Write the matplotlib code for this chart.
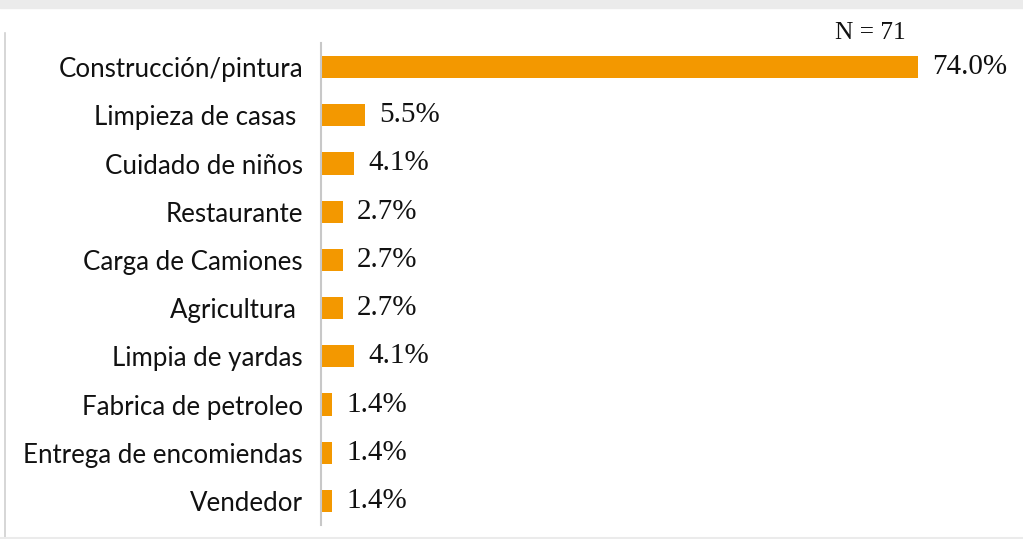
import matplotlib.pyplot as plt
from matplotlib.lines import Line2D
from matplotlib.patches import Rectangle

# datos
categorias = ['Construcción/pintura', 'Limpieza de casas ', 'Cuidado de niños',
              'Restaurante', 'Carga de Camiones', 'Agricultura ',
              'Limpia de yardas', 'Fabrica de petroleo',
              'Entrega de encomiendas', 'Vendedor']
porcentajes = [74.0, 5.5, 4.1, 2.7, 2.7, 2.7, 4.1, 1.4, 1.4, 1.4]
nota = 'N = 71'

color_barra = '#F39800'
fuente_num = 'Liberation Serif'
fuente_cat = 'Lato'

fig = plt.figure(figsize=(10.23, 5.39), dpi=100)
ax = fig.add_axes([321 / 1023, 14 / 539, 680 / 1023, 482 / 539])

y = list(range(len(categorias)))
ax.barh(y, porcentajes, height=0.46, color=color_barra)
ax.set_ylim(len(categorias) - 0.5, -0.5)
ax.set_xlim(0, 680 / 8.07)

ax.set_yticks(y)
ax.set_yticklabels(categorias, fontsize=18.6, family=fuente_cat, color='#111111')
ax.tick_params(axis='y', length=0, pad=13)
ax.set_xticks([])

for s in ['top', 'right', 'bottom']:
    ax.spines[s].set_visible(False)
ax.spines['left'].set_color('#c8c8c8')
ax.spines['left'].set_linewidth(1.5)

for yi, v in zip(y, porcentajes):
    ax.annotate(f'{v:.1f}%', (v, yi), xytext=(10, 0), textcoords='offset points',
                va='center', ha='left', fontsize=21, family=fuente_num, color='#111111')

fig.text(870 / 1023, 1 - 33 / 539, nota, ha='center', va='center',
         fontsize=18.3, family=fuente_num, color='#111111')

# marco del área del gráfico
fig.patches.append(Rectangle((0, 1 - 8 / 539), 1, 8 / 539, transform=fig.transFigure,
                             color='#ebebeb', zorder=0))
fig.lines.append(Line2D([4.5 / 1023, 4.5 / 1023], [0, 1 - 33 / 539], transform=fig.transFigure,
                        color='#d0d0d0', lw=1.2))
fig.lines.append(Line2D([0, 1], [1.5 / 539, 1.5 / 539], transform=fig.transFigure,
                        color='#ebebeb', lw=1.5))

fig.savefig('out.png', dpi=100)
